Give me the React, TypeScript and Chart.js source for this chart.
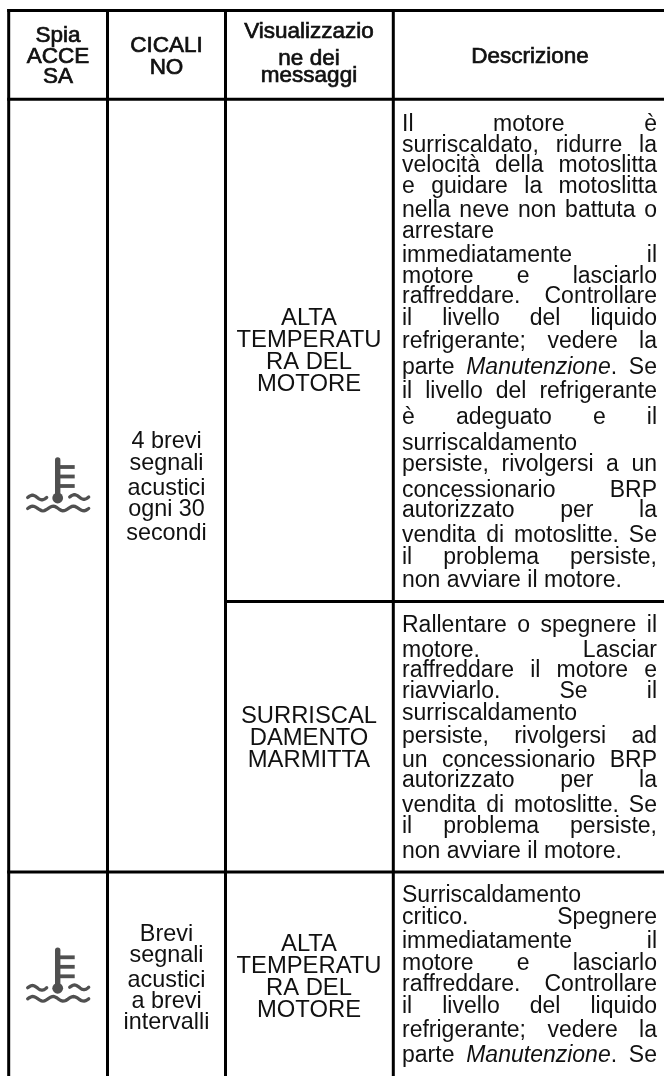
import React, { useEffect, useRef } from "react";
import { Chart, registerables } from "chart.js";

Chart.register(...registerables);

const WIDTH = 664;
const HEIGHT = 1076;

// ---- Table text ----
const headerLabels = [["Spia", "ACCE", "SA"], ["CICALI", "NO"], ["Visualizzazio", "ne dei", "messaggi"], ["Descrizione"]];
const headerBaselines = [[41.7, 62.7, 83.3], [51.7, 74], [38, 65, 82.3], [62.7]];

const beepLabels = [
  ["4 brevi", "segnali", "acustici", "ogni 30", "secondi"],
  ["Brevi", "segnali", "acustici", "a brevi", "intervalli"],
];
const beepBaselines = [
  [448.3, 470, 495, 516, 540],
  [940.7, 962, 986.7, 1008, 1029.3],
];

const messageLabels = [
  ["ALTA", "TEMPERATU", "RA DEL", "MOTORE"],
  ["SURRISCAL", "DAMENTO", "MARMITTA"],
  ["ALTA", "TEMPERATU", "RA DEL", "MOTORE"],
];
const messageBaselines = [
  [325, 347.3, 369, 390.7],
  [723.3, 745, 767],
  [951, 973.3, 995, 1016.7],
];

const descriptionLines = [
  "Il motore è", "surriscaldato, ridurre la", "velocità della motoslitta", "e guidare la motoslitta",
  "nella neve non battuta o", "~arrestare", "immediatamente il", "motore e lasciarlo",
  "raffreddare. Controllare", "il livello del liquido", "refrigerante; vedere la", "parte *Manutenzione*. Se",
  "il livello del refrigerante", "è adeguato e il", "~surriscaldamento", "persiste, rivolgersi a un",
  "concessionario BRP", "autorizzato per la", "vendita di motoslitte. Se", "il problema persiste,",
  "~non avviare il motore.",
  "Rallentare o spegnere il", "motore. Lasciar", "raffreddare il motore e", "riavviarlo. Se il",
  "~surriscaldamento", "persiste, rivolgersi ad", "un concessionario BRP", "autorizzato per la",
  "vendita di motoslitte. Se", "il problema persiste,", "~non avviare il motore.",
  "~Surriscaldamento", "critico. Spegnere", "immediatamente il", "motore e lasciarlo",
  "raffreddare. Controllare", "il livello del liquido", "refrigerante; vedere la", "parte *Manutenzione*. Se",
];
const descriptionBaselines = [
  131, 151.7, 171.7, 192.7, 217, 238, 262, 282.7, 303, 325, 348, 374, 398, 424, 450, 470.7, 496.7, 516.7, 541.7, 564, 587,
  631.7, 656.7, 676.7, 698, 720, 742.7, 766.7, 787.3, 811.7, 833, 858,
  901.7, 924, 948.3, 970, 990.7, 1013, 1037, 1061.7,
];

// ---- Table rules ----
const verticalRules = [8.7, 107.5, 225.5, 393.3];
const horizontalRules = [
  { y: 10.5, from: 8.7 },
  { y: 99.2, from: 8.7 },
  { y: 601.5, from: 225.5 },
  { y: 872, from: 8.7 },
];
const columnCenters = [58, 166.5, 309, 530];
const descriptionLeft = 402;
const descriptionRight = 657;
const iconBulbY = [498, 988.3];
const iconCenterX = 57.7;

const SANS = '"Liberation Sans", Arial, sans-serif';

function segmentsOf(word: string) {
  return word.split("*").map((text, i) => ({ text, italic: i % 2 === 1 })).filter((s) => s.text);
}

const tablePlugin = {
  id: "tableText",
  afterDatasetsDraw(chart: any) {
    const { ctx, scales } = chart;
    const X = (v: number) => scales.x.getPixelForValue(v);
    const Y = (v: number) => scales.y.getPixelForValue(v);
    ctx.save();
    ctx.textBaseline = "alphabetic";
    ctx.fillStyle = "#111";

    // header: regular face with a thin stroke, as in the reference
    ctx.textAlign = "center";
    ctx.font = `22.5px ${SANS}`;
    ctx.strokeStyle = "#111";
    ctx.lineWidth = 0.7;
    headerLabels.forEach((lines, c) =>
      lines.forEach((t, i) => {
        ctx.fillText(t, X(columnCenters[c]), Y(headerBaselines[c][i]));
        ctx.strokeText(t, X(columnCenters[c]), Y(headerBaselines[c][i]));
      })
    );

    ctx.font = `23.4px ${SANS}`;
    beepLabels.forEach((lines, r) =>
      lines.forEach((t, i) => ctx.fillText(t, X(columnCenters[1]), Y(beepBaselines[r][i])))
    );
    ctx.font = `23.8px ${SANS}`;
    messageLabels.forEach((lines, r) =>
      lines.forEach((t, i) => ctx.fillText(t, X(columnCenters[2]), Y(messageBaselines[r][i])))
    );

    // description: justified
    ctx.textAlign = "left";
    const left = X(descriptionLeft);
    const right = X(descriptionRight);
    const fontFor = (italic: boolean) => `${italic ? "italic " : ""}23px ${SANS}`;
    const measure = (word: string) =>
      segmentsOf(word).reduce((w, s) => {
        ctx.font = fontFor(s.italic);
        return w + ctx.measureText(s.text).width;
      }, 0);
    descriptionLines.forEach((raw, i) => {
      const natural = raw.startsWith("~");
      const words = (natural ? raw.slice(1) : raw).split(" ");
      const widths = words.map(measure);
      const total = widths.reduce((a, b) => a + b, 0);
      ctx.font = fontFor(false);
      const space = natural || words.length < 2
        ? ctx.measureText(" ").width
        : (right - left - total) / (words.length - 1);
      let x = left;
      words.forEach((w, k) => {
        let sx = x;
        segmentsOf(w).forEach((s) => {
          ctx.font = fontFor(s.italic);
          ctx.fillText(s.text, sx, Y(descriptionBaselines[i]));
          sx += ctx.measureText(s.text).width;
        });
        x += widths[k] + space;
      });
    });

    // thermometer-in-water icons
    ctx.strokeStyle = "#505050";
    ctx.fillStyle = "#505050";
    iconBulbY.forEach((by) => {
      const cx = X(iconCenterX);
      const cy = Y(by);
      ctx.lineCap = "round";
      ctx.lineWidth = 5.4;
      ctx.beginPath();
      ctx.moveTo(cx, cy);
      ctx.lineTo(cx, cy - 38);
      ctx.stroke();
      ctx.lineCap = "butt";
      ctx.lineWidth = 3.8;
      [-31, -21.5, -12].forEach((d) => {
        ctx.beginPath();
        ctx.moveTo(cx, cy + d);
        ctx.lineTo(cx + 17, cy + d);
        ctx.stroke();
      });
      ctx.beginPath();
      ctx.arc(cx, cy, 5.4, 0, Math.PI * 2);
      ctx.fill();
      ctx.lineCap = "round";
      ctx.lineWidth = 3.3;
      const wave = (x0: number, x1: number, y0: number, cycles: number, phase: number) => {
        ctx.beginPath();
        for (let k = 0; k <= 40; k++) {
          const t = k / 40;
          const yy = y0 + phase * 2.3 * Math.sin(t * cycles * Math.PI * 2);
          if (k === 0) ctx.moveTo(x0 + (x1 - x0) * t, yy);
          else ctx.lineTo(x0 + (x1 - x0) * t, yy);
        }
        ctx.stroke();
      };
      wave(cx - 30, cx - 11, cy - 0.5, 1, -1);
      wave(cx + 12, cx + 31, cy - 1, 1, -1);
      wave(cx - 30, cx + 31, cy + 10.5, 3, -1);
    });
    ctx.restore();
  },
};

export default function App() {
  const ref = useRef<HTMLCanvasElement>(null);
  useEffect(() => {
    const datasets = [
      ...verticalRules.map((x) => ({
        data: [{ x, y: 9 }, { x, y: HEIGHT }],
      })),
      ...horizontalRules.map((r) => ({
        data: [{ x: r.from - 1.5, y: r.y }, { x: WIDTH, y: r.y }],
      })),
    ].map((d) => ({
      ...d,
      showLine: true,
      borderColor: "#000",
      borderWidth: 3,
      borderCapStyle: "butt",
      pointRadius: 0,
      tension: 0,
    }));
    const chart = new Chart(ref.current as HTMLCanvasElement, {
      type: "scatter",
      data: { datasets } as any,
      options: {
        animation: false,
        responsive: false,
        devicePixelRatio: 1,
        layout: { padding: 0 },
        plugins: { legend: { display: false }, tooltip: { enabled: false } },
        scales: {
          x: { type: "linear", min: 0, max: WIDTH, display: false },
          y: { type: "linear", min: 0, max: HEIGHT, reverse: true, display: false },
        },
      } as any,
      plugins: [tablePlugin],
    });
    return () => chart.destroy();
  }, []);
  return (
    <canvas
      ref={ref}
      width={WIDTH}
      height={HEIGHT}
      style={{ position: "absolute", left: 0, top: 0, width: WIDTH, height: HEIGHT, background: "#fff" }}
    />
  );
}
